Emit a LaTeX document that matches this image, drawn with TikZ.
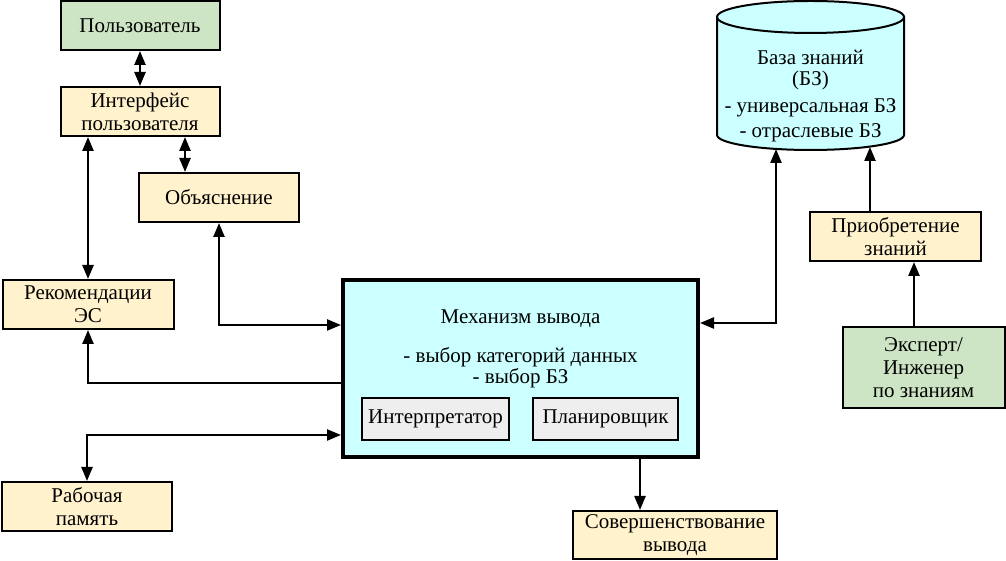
\documentclass[tikz,border=0pt]{standalone}
\usepackage{fontspec}
\IfFontExistsTF{LiberationSerif-Regular.ttf}
  {\newfontfamily\ruserif{LiberationSerif-Regular.ttf}}
  {\newfontfamily\ruserif{DejaVu Serif}}
\usetikzlibrary{arrows.meta,positioning}
\definecolor{grn}{HTML}{CDE5C4}
\definecolor{ylw}{HTML}{FFF2CC}
\definecolor{cyn}{HTML}{CCFFFF}
\definecolor{gry}{HTML}{EEEEEE}
\tikzset{
  box/.style={draw=black, line width=2pt, inner sep=0pt, align=center,
    font=\ruserif\fontsize{21}{23}\selectfont},
  ybox/.style={box, fill=ylw},
  gbox/.style={box, fill=grn},
  sbox/.style={box, fill=gry},
  txt/.style={inner sep=0pt, align=center, font=\ruserif\fontsize{21}{23}\selectfont},
  conn/.style={line width=2.4pt, -{Triangle[length=14pt,width=11pt]}},
  dconn/.style={line width=2.4pt, {Triangle[length=14pt,width=11pt]}-{Triangle[length=14pt,width=11pt]}},
}
\begin{document}
\begin{tikzpicture}[x=1pt,y=1pt]
\useasboundingbox (0,0) rectangle (1006,561);
% left column
\node[gbox, minimum width=159pt, minimum height=49pt] (user) at (140,535.5) {Пользователь};
\node[ybox, minimum width=159pt, minimum height=49pt] (iface) at (140,449.5) {Интерфейс\\пользователя};
\node[ybox, minimum width=160pt, minimum height=49pt] (expl) at (219,363.5) {Объяснение};
\node[ybox, minimum width=171pt, minimum height=49pt] (rec) at (88,256.5) {Рекомендации\\ЭС};
\node[ybox, minimum width=170pt, minimum height=49pt] (mem) at (87,54.5) {Рабочая\\память};
% main
\node[draw=black, fill=cyn, line width=4pt, minimum width=355pt, minimum height=177pt, inner sep=0pt] (main) at (520.5,192.5) {};
\node[txt] (mtitle) at (520.5,242) {Механизм вывода};
\node[txt] (mline1) at (520.5,204) {- выбор категорий данных};
\node[txt] (mline2) at (520.5,183) {- выбор БЗ};
\node[sbox, minimum width=147pt, minimum height=42pt] (interp) at (435.5,142) {Интерпретатор};
\node[sbox, minimum width=145pt, minimum height=42pt] (plan) at (605.5,142) {Планировщик};
\node[ybox, minimum width=204pt, minimum height=48pt] (impr) at (675,26) {Совершенствование\\вывода};
% right
\fill[cyn] (717,544) -- (717,426) arc[start angle=180, end angle=360, x radius=93.5pt, y radius=15pt] -- (904,544) arc[start angle=0, end angle=180, x radius=93.5pt, y radius=16pt] -- cycle;
\draw[line width=2pt] (717,544) -- (717,426) arc[start angle=180, end angle=360, x radius=93.5pt, y radius=15pt] -- (904,544);
\draw[line width=2pt] (810.5,544) ellipse[x radius=93.5pt, y radius=16pt];
\node[txt] (kb1) at (810.5,504) {База знаний};
\node[txt] (kb2) at (810.5,481) {(БЗ)};
\node[txt] (kb3) at (810.5,453) {- универсальная БЗ};
\node[txt] (kb4) at (810.5,428) {- отраслевые БЗ};
\node[ybox, minimum width=171pt, minimum height=49pt] (acq) at (895.5,324.5) {Приобретение\\знаний};
\node[gbox, minimum width=162pt, minimum height=81pt] (expert) at (923.5,193.5) {Эксперт/\\Инженер\\по знаниям};
% helper coordinates
\coordinate (xie) at (185,0);
\coordinate (r1) at (0,236);
\coordinate (r2) at (0,178);
\coordinate (r3) at (0,126);
\coordinate (r4) at (0,238);
\coordinate (xim) at (640,0);
\coordinate (kbA) at (776,412);
\coordinate (kbB) at (870,414);
\coordinate (xex) at (914,0);
% connectors
\draw[dconn] (user.south) -- (iface.north);
\draw[dconn] (iface.south -| xie) -- (expl.north -| xie);
\draw[dconn] (iface.south -| rec.north) -- (rec.north);
\draw[dconn] (expl.south) |- (main.west |- r1);
\draw[conn] (main.west |- r2) -| (rec.south);
\draw[dconn] (mem.north) |- (main.west |- r3);
\draw[conn] (main.south -| xim) -- (impr.north -| xim);
\draw[dconn] (main.east |- r4) -| (kbA);
\draw[conn] (acq.north -| kbB) -- (kbB);
\draw[conn] (expert.north -| xex) -- (acq.south -| xex);
\end{tikzpicture}
\end{document}
